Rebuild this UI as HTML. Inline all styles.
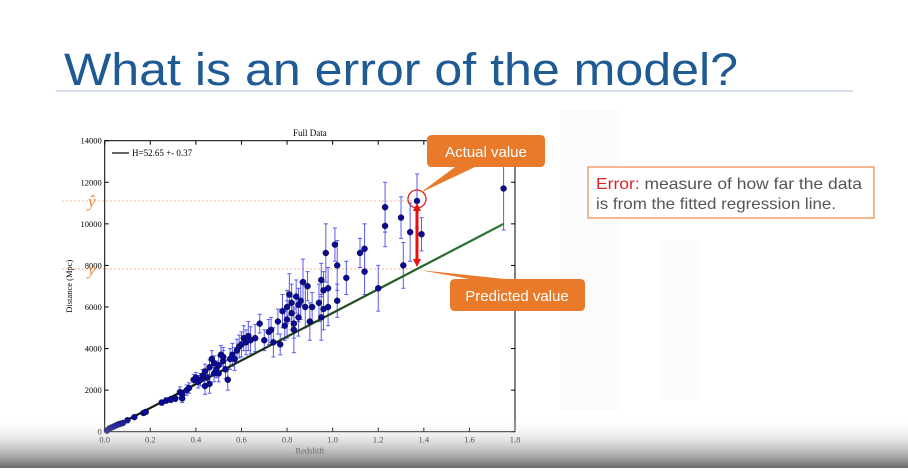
<!DOCTYPE html>
<html><head><meta charset="utf-8"><style>
html,body{margin:0;padding:0;background:#fff;}
body{width:908px;height:468px;overflow:hidden;position:relative;font-family:"Liberation Sans",sans-serif;}
</style></head><body>
<svg id="s" width="908" height="468" viewBox="0 0 908 468" xmlns="http://www.w3.org/2000/svg">
<defs>
<linearGradient id="bot" x1="0" y1="0" x2="0" y2="1"><stop offset="0" stop-color="#fff" stop-opacity="0"/><stop offset="1" stop-color="#6a6a6a"/></linearGradient>
<linearGradient id="fitg" x1="0" y1="0" x2="1" y2="0"><stop offset="0" stop-color="#111"/><stop offset="0.45" stop-color="#1c3a1c"/><stop offset="1" stop-color="#2e7d32"/></linearGradient>
</defs>
<rect x="560" y="110" width="60" height="300" fill="#fbfbfd"/>
<rect x="660" y="240" width="40" height="160" fill="#fbfcfd"/>
<text x="64" y="85" font-size="45" fill="#1e5a93" textLength="674" lengthAdjust="spacingAndGlyphs">What is an error of the model?</text>
<line x1="56" y1="91" x2="853" y2="91" stroke="#c5d3e6" stroke-width="1.5"/>
<g id="chart"></g>
<rect x="0" y="418" width="908" height="50" fill="url(#bot)"/>
<rect x="588" y="167" width="286" height="51" fill="#fff" stroke="#f0a070" stroke-width="1.5"/>
<text x="596" y="189" font-size="16" fill="#555" textLength="266" lengthAdjust="spacingAndGlyphs"><tspan fill="#d9262b">Error:</tspan> measure of how far the data</text>
<text x="596" y="209" font-size="16" fill="#555" textLength="240" lengthAdjust="spacingAndGlyphs">is from the fitted regression line.</text>
</svg>
<script>
const zVals=[0.01,0.02,0.03,0.04,0.05,0.06,0.07,0.08,0.1,0.13,0.17,0.18,0.25,0.27,0.29,0.31,0.33,0.34,0.34,0.36,0.37,0.39,0.4,0.41,0.42,0.43,0.44,0.44,0.45,0.46,0.46,0.47,0.48,0.48,0.49,0.5,0.5,0.51,0.52,0.52,0.53,0.54,0.55,0.56,0.57,0.58,0.59,0.6,0.61,0.62,0.63,0.64,0.66,0.68,0.7,0.72,0.73,0.74,0.76,0.77,0.78,0.79,0.8,0.8,0.81,0.82,0.82,0.83,0.83,0.84,0.85,0.85,0.86,0.87,0.88,0.89,0.9,0.91,0.94,0.95,0.95,0.96,0.96,0.97,0.98,0.98,1.01,1.02,1.02,1.06,1.12,1.14,1.14,1.2,1.23,1.23,1.3,1.31,1.34,1.37,1.39,1.75];
const dVals=[50,150,200,250,300,350,380,420,550,700,900,950,1400,1500,1550,1600,1900,1600,1800,2000,2100,2500,2600,2400,2500,2700,2200,2900,2600,2300,3100,3500,3300,2800,3000,3200,2800,3700,3400,3600,3000,2500,3500,3700,3500,3900,4100,4200,4500,4300,4600,4400,4500,5200,4400,4800,4900,4300,5300,4200,5800,5100,5400,6000,6600,5700,6200,5200,4900,6500,5500,6100,6300,7200,6000,7000,5300,6000,6200,5500,7300,6800,5900,8600,6900,6000,9000,8000,6300,7400,8600,8800,7700,6900,10800,9900,10300,8000,9600,11100,9500,11700];
const eVals=[20,30,40,40,50,50,50,60,80,90,100,100,120,130,150,150,250,200,200,250,250,250,250,300,300,300,400,350,350,450,350,400,350,400,400,450,400,450,500,450,450,500,500,550,550,550,550,600,600,600,700,650,650,450,500,600,600,700,600,500,800,700,900,800,1000,800,900,700,1100,800,900,800,900,1100,1000,700,900,700,900,1100,800,900,1000,1400,1000,900,800,1200,800,800,700,1200,1100,1100,1200,1000,1000,1100,1400,1300,800,2000];
const xTicks=[0,0.2,0.4,0.6,0.8,1.0,1.2,1.4,1.6,1.8];
const xTickLabels=["0.0","0.2","0.4","0.6","0.8","1.0","1.2","1.4","1.6","1.8"];
const yTicks=[0,2000,4000,6000,8000,10000,12000,14000];
const fitX=[0,1.75];
const fitY=[0,10000];
const actualY=[11100];
const predictedY=[7830];
const highlightZ=[1.37];

const NS="http://www.w3.org/2000/svg";
const L=104.7,R=515,T=140.7,B=431.7;
const sx=v=>L+(v-0)/(1.8)*(R-L);
const sy=v=>B-(v/14000)*(B-T);
const g=document.getElementById('chart');
function mk(tag,attrs){const e=document.createElementNS(NS,tag);for(const k in attrs)e.setAttribute(k,attrs[k]);g.appendChild(e);return e;}

let fr=mk('rect',{x:L,y:T,width:R-L,height:B-T,fill:'#fff',stroke:'#000','stroke-width':1});


let tt=mk('text',{x:(L+R)/2,y:136,'font-size':9,'text-anchor':'middle','font-family':'Liberation Serif, serif'});tt.textContent='Full Data';


xTicks.forEach((v,i)=>{
  let x=sx(v);
  let l=mk('line',{x1:x,y1:B,x2:x,y2:B-4,stroke:'#000'});
  
  
  mk('line',{x1:x,y1:T,x2:x,y2:T+4,stroke:'#000'});
  let t=mk('text',{x:x,y:B+11,'font-size':8.5,'text-anchor':'middle','font-family':'Liberation Serif, serif'});t.textContent=xTickLabels[i];
  
  
});
yTicks.forEach(v=>{
  let y=sy(v);
  let l=mk('line',{x1:L,y1:y,x2:L+4,y2:y,stroke:'#000'});
  
  
  mk('line',{x1:R,y1:y,x2:R-4,y2:y,stroke:'#000'});
  let t=mk('text',{x:L-3,y:y+3,'font-size':8.5,'text-anchor':'end','font-family':'Liberation Serif, serif'});t.textContent=String(v);
  
  
});
let xl=mk('text',{x:(L+R)/2,y:B+22,'font-size':8.5,'text-anchor':'middle','font-family':'Liberation Serif, serif'});xl.textContent='Redshift';


let yl=mk('text',{x:0,y:0,'font-size':8.5,'text-anchor':'middle','font-family':'Liberation Serif, serif',transform:`translate(72,${(T+B)/2}) rotate(-90)`});yl.textContent='Distance (Mpc)';


[actualY[0],predictedY[0]].forEach((v,i)=>{
  let l=mk('line',{x1:62,y1:sy(v),x2:sx(highlightZ[0]),y2:sy(v),stroke:'#f4a582','stroke-width':0.8,'stroke-dasharray':'2,2'});
  
  
});
let yh=mk('text',{x:88,y:sy(actualY[0])+6,'font-size':17,fill:'#e8883a','font-style':'italic','font-family':'Liberation Serif, serif'});yh.textContent='ŷ';


let yy=mk('text',{x:88,y:sy(predictedY[0])+6,'font-size':17,fill:'#e8883a','font-style':'italic','font-family':'Liberation Serif, serif'});yy.textContent='y';


zVals.forEach((z,i)=>{
  let x=sx(z);
  let e=mk('line',{x1:x,y1:sy(dVals[i]-eVals[i]),x2:x,y2:sy(dVals[i]+eVals[i]),stroke:'#5a5af0','stroke-width':1});
  
  
  mk('line',{x1:x-2,y1:sy(dVals[i]-eVals[i]),x2:x+2,y2:sy(dVals[i]-eVals[i]),stroke:'#5a5af0'});
  mk('line',{x1:x-2,y1:sy(dVals[i]+eVals[i]),x2:x+2,y2:sy(dVals[i]+eVals[i]),stroke:'#5a5af0'});
});
let fl=mk('line',{x1:sx(fitX[0]),y1:sy(fitY[0]),x2:sx(fitX[1]),y2:sy(fitY[1]),stroke:'url(#fitg)','stroke-width':2.2});


zVals.forEach((z,i)=>{
  let c=mk('circle',{cx:sx(z),cy:sy(dVals[i]),r:3,fill:'#0a0a9a',stroke:'#000','stroke-width':0.4});
  
  
});
let lg=mk('line',{x1:112,y1:153,x2:129,y2:153,stroke:'#333','stroke-width':1.5});


let lt=mk('text',{x:132,y:156,'font-size':9,'font-family':'Liberation Serif, serif'});lt.textContent='H=52.65 +- 0.37';


const hx=sx(highlightZ[0]);
let hc=mk('circle',{cx:hx,cy:sy(actualY[0])-2,r:9,fill:'none',stroke:'#e02020','stroke-width':1.3});


let ar=mk('line',{x1:hx,y1:sy(actualY[0])+8,x2:hx,y2:sy(predictedY[0])-8,stroke:'#e81010','stroke-width':3});


mk('polygon',{points:`${hx-4},${sy(actualY[0])+10} ${hx+4},${sy(actualY[0])+10} ${hx},${sy(actualY[0])+2}`,fill:'#e81010'});
mk('polygon',{points:`${hx-4},${sy(predictedY[0])-10} ${hx+4},${sy(predictedY[0])-10} ${hx},${sy(predictedY[0])-2}`,fill:'#e81010'});
let c1=mk('path',{d:`M427,140 Q427,135 432,135 L540,135 Q545,135 545,140 L545,162 Q545,167 540,167 L475,167 L${hx+3},${sy(actualY[0])-8} L455,167 L432,167 Q427,167 427,162 Z`,fill:'#e87a2a'});


let c1t=mk('text',{x:486,y:157,'font-size':15,fill:'#fff','text-anchor':'middle'});c1t.textContent='Actual value';


let c2=mk('path',{d:`M450,284 Q450,279 455,279 L470,279 L${hx+2},${sy(predictedY[0])+1} L505,279 L580,279 Q585,279 585,284 L585,306 Q585,311 580,311 L455,311 Q450,311 450,306 Z`,fill:'#e87a2a'});


let c2t=mk('text',{x:517,y:301,'font-size':15,fill:'#fff','text-anchor':'middle'});c2t.textContent='Predicted value';


</script>
</body></html>
